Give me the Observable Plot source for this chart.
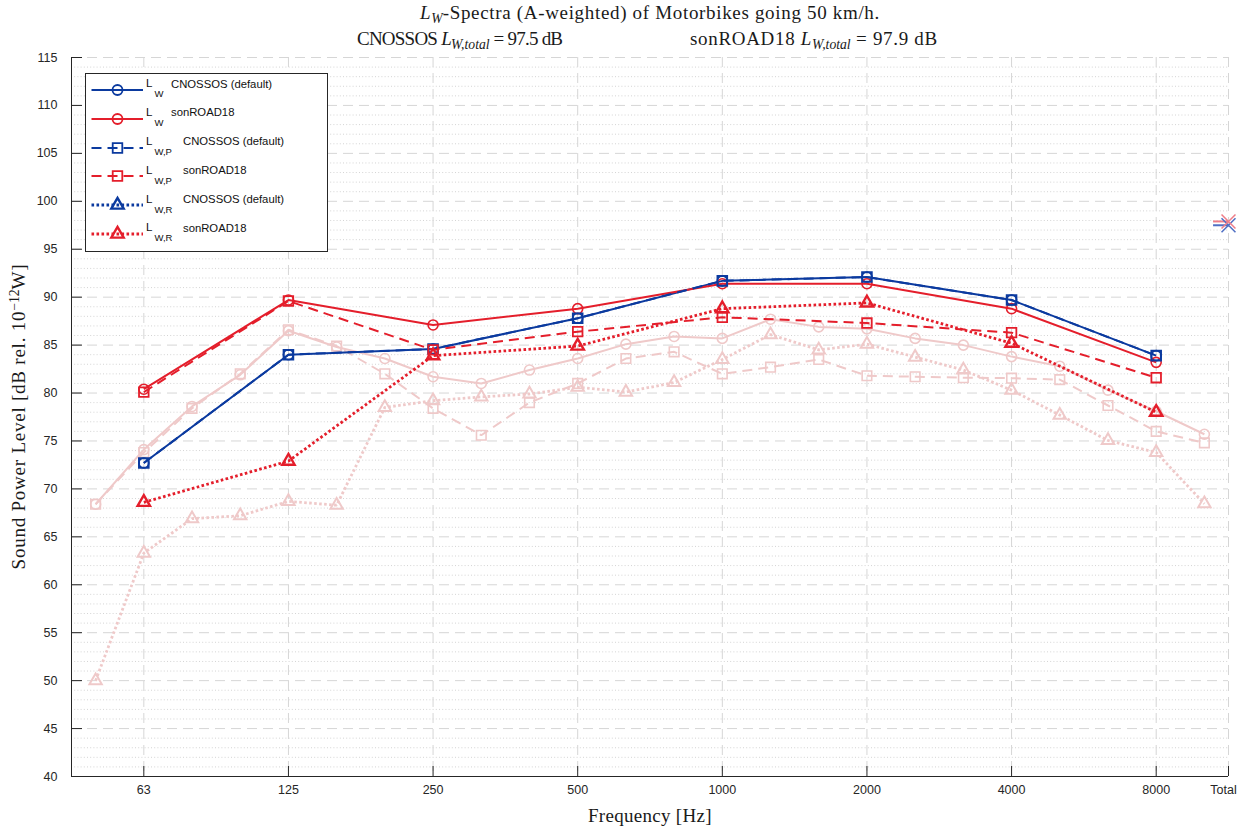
<!DOCTYPE html>
<html><head><meta charset="utf-8">
<script src="https://cdn.jsdelivr.net/npm/d3@7"></script>
<script src="https://cdn.jsdelivr.net/npm/@observablehq/plot@0.6"></script>
<style>
body{margin:0;background:#fff;}
#wrap{position:relative;width:1245px;height:832px;overflow:hidden;background:#fff;}
.serif{font-family:"Liberation Serif","Times New Roman",serif;color:#1a1a1a;position:absolute;white-space:nowrap;line-height:1;}
.serif sub,.lg sub{font-size:0.72em;vertical-align:baseline;position:relative;top:0.3em;letter-spacing:0;}
.serif sup{font-size:0.72em;vertical-align:baseline;position:relative;top:-0.45em;letter-spacing:0;}
#legend{position:absolute;left:85px;top:73px;width:243px;height:179px;box-sizing:border-box;border:1px solid #262626;background:#fff;}
.lg{position:absolute;font-family:"Liberation Sans",Arial,sans-serif;color:#111;white-space:nowrap;line-height:1;}
</style></head><body><div id="wrap"></div>
<script>
// ---- data ----
const bands = ["50","63","80","100","125","160","200","250","315","400","500","630","800","1000","1250","1600","2000","2500","3150","4000","5000","6300","8000","10000"];
const octaveBands = ["63","125","250","500","1000","2000","4000","8000"];
const totalLabel = "Total";

// octave-band spectra
const cnossosLW  = [72.7, 84.0, 84.6, 87.8, 91.7, 92.1, 89.7, 83.9];
const cnossosLWP = [72.7, 84.0, 84.6, 87.8, 91.7, 92.1, 89.7, 83.9];
const cnossosLWR = [];
const sonroadLW  = [80.4, 89.7, 87.1, 88.8, 91.4, 91.4, 88.8, 83.2];
const sonroadLWP = [80.1, 89.6, 84.5, 86.4, 87.9, 87.3, 86.3, 81.6];
const sonroadLWR = [68.6, 72.9, 83.9, 84.9, 88.8, 89.4, 85.2, 78.0];

// third-octave spectra (pale)
const thirdLW  = [68.4, 74.1, 78.6, 81.9, 86.5, 84.8, 83.6, 81.7, 81.0, 82.4, 83.6, 85.1, 85.9, 85.7, 87.7, 86.9, 86.7, 85.7, 85.0, 83.8, 82.8, 80.3, 78.1, 75.7];
const thirdLWP = [68.4, 73.8, 78.4, 82.0, 86.6, 84.9, 82.0, 78.4, 75.6, 79.0, 81.0, 83.6, 84.3, 82.0, 82.7, 83.5, 81.8, 81.7, 81.6, 81.55, 81.4, 78.7, 76.0, 74.8];
const thirdLWR = [50.0, 63.3, 66.9, 67.2, 68.7, 68.3, 78.5, 79.2, 79.6, 79.9, 80.6, 80.1, 81.1, 83.5, 86.1, 84.5, 85.1, 83.75, 82.4, 80.3, 77.7, 75.05, 73.8, 68.45];

const cnossosTotal = 97.5;
const sonroadTotal = 97.9;

const yTicks = d3.range(40, 116, 5);

// ---- styles ----
const blue = "#0b3a9f", red = "#e41e2b", pale = "#efc9c9";
const dashed = "10,6", dotted = "2.6,2.4";

const totalIdx = bands.length - 0.5;
const octave = vals => vals.map((v, i) => ({x: bands.indexOf(octaveBands[i]), y: v}));
const third = vals => vals.map((v, i) => ({x: i, y: v}));
const symR = {circle: 5, square: 5.4, triangle: 4.6};

const series = [
  {data: third(thirdLW),  color: pale, dash: null,   sym: "circle",   w: 2,   mw: 1.6},
  {data: third(thirdLWP), color: pale, dash: dashed, sym: "square",   w: 2,   mw: 1.6},
  {data: third(thirdLWR), color: pale, dash: dotted, sym: "triangle", w: 2.8, mw: 2},
  {data: octave(cnossosLW),  color: blue, dash: null,   sym: "circle",   w: 2,   mw: 1.6},
  {data: octave(sonroadLW),  color: red,  dash: null,   sym: "circle",   w: 2,   mw: 1.6},
  {data: octave(cnossosLWP), color: blue, dash: dashed, sym: "square",   w: 2,   mw: 2},
  {data: octave(sonroadLWP), color: red,  dash: dashed, sym: "square",   w: 2,   mw: 1.8},
  {data: octave(cnossosLWR), color: blue, dash: dotted, sym: "triangle", w: 2.8, mw: 2.4},
  {data: octave(sonroadLWR), color: red,  dash: dotted, sym: "triangle", w: 2.8, mw: 2.4}
];

const seriesMarks = series.filter(s => s.data.length).flatMap(s => [
  Plot.line(s.data, {x: "x", y: "y", stroke: s.color, strokeWidth: s.w, strokeDasharray: s.dash, strokeLinecap: "butt", strokeLinejoin: "miter"}),
  Plot.dot(s.data, {x: "x", y: "y", symbol: s.sym, r: symR[s.sym], stroke: s.color, strokeWidth: s.mw, fill: "none"})
]);

const xTickIdx = octaveBands.map(b => bands.indexOf(b));
const minorY = d3.range(40, 116).filter(v => v % 5 !== 0);
const totals = [{y: cnossosTotal, c: "#4f6fc4"}, {y: sonroadTotal, c: "#ef7d88"}];

const chart = Plot.plot({
  width: 1245, height: 832,
  marginTop: 57, marginBottom: 56, marginLeft: 71, marginRight: 17,
  x: {type: "linear", domain: [-0.5, totalIdx]},
  y: {domain: [40, 115]},
  style: {fontFamily: '"Liberation Sans",Arial,sans-serif', fontSize: "12.5px", color: "#262626", background: "transparent", overflow: "visible"},
  marks: [
    Plot.ruleY(minorY, {stroke: "#d4d4d4", strokeDasharray: "1,2.2"}),
    Plot.ruleY(yTicks.filter(v => v > 40), {stroke: "#d6d6d6", strokeDasharray: dashed}),
    Plot.ruleX([...xTickIdx, totalIdx], {stroke: "#d6d6d6", strokeDasharray: dashed}),
    ...seriesMarks,
    Plot.ruleY(totals, {y: "y", x1: totalIdx - 0.31, x2: totalIdx, stroke: "c", strokeWidth: 2}),
    Plot.dot(totals, {x: totalIdx, y: "y", symbol: "times", r: 6.4, stroke: "c", strokeWidth: 1.5}),
    Plot.ruleX([-0.5], {stroke: "#262626"}),
    Plot.ruleY([40], {stroke: "#262626"}),
    Plot.axisY({ticks: yTicks, tickSize: 11, dx: 11, fill: "none", label: null}),
    Plot.axisY({ticks: yTicks, tickSize: 0, tickPadding: 14, label: null}),
    Plot.axisX({ticks: [...xTickIdx, totalIdx], tickSize: 10, dy: -10, fill: "none", label: null}),
    Plot.axisX({ticks: xTickIdx, tickSize: 0, tickPadding: 9, tickFormat: i => bands[i], label: null}),
    Plot.axisX({ticks: [totalIdx], tickSize: 0, tickPadding: 9, dx: -5, tickFormat: () => totalLabel, label: null})
  ]
});
chart.style.position = "absolute";
chart.style.left = "0px";
chart.style.top = "0px";
const wrap = document.getElementById("wrap");
wrap.appendChild(chart);

// ---- texts ----
function addSerif(html, fs, target) {
  const d = document.createElement("div");
  d.className = "serif";
  d.style.fontSize = fs + "px";
  d.innerHTML = html;
  wrap.appendChild(d);
  if (target) {
    const n = d.textContent.length;
    const w = d.offsetWidth;
    d.style.letterSpacing = ((target - w) / n) + "px";
  }
  return d;
}
function placeCenter(d, cx, capCy, fs) {
  d.style.left = (cx - d.offsetWidth / 2) + "px";
  d.style.top = (capCy - 0.51 * fs) + "px";
}
const fsT = 19;
const t1 = addSerif('<i>L</i><sub><i>W</i></sub>-Spectra (A-weighted) of Motorbikes going 50 km/h.', fsT, 461);
placeCenter(t1, 650, 12.5, fsT);
const t2a = addSerif(`CNOSSOS <i>L</i><sub><i>W,total</i></sub> = ${cnossosTotal.toFixed(1)} dB`, fsT, 200);
t2a.style.left = "357px"; t2a.style.top = (39 - 0.51 * fsT) + "px";
const t2b = addSerif(`sonROAD18 <i>L</i><sub><i>W,total</i></sub> = ${sonroadTotal.toFixed(1)} dB`, fsT, 253);
t2b.style.left = "690px"; t2b.style.top = (39 - 0.51 * fsT) + "px";

const xl = addSerif('Frequency [Hz]', fsT, 124);
placeCenter(xl, 650, 816, fsT);
const yl = addSerif('Sound Power Level [dB rel. 10<sup>−12</sup>W]', fsT, 308);
placeCenter(yl, 19, 416.5, fsT);
yl.style.top = (416.5 - yl.offsetHeight / 2) + "px";
yl.style.transform = "rotate(-90deg)";
yl.style.transformOrigin = "50% 50%";

// ---- legend ----
const legend = document.createElement("div");
legend.id = "legend";
wrap.appendChild(legend);
const legendItems = [
  {sub: "W",   text: "CNOSSOS (default)", color: blue, dash: null,   sym: "circle"},
  {sub: "W",   text: "sonROAD18",         color: red,  dash: null,   sym: "circle"},
  {sub: "W,P", text: "CNOSSOS (default)", color: blue, dash: dashed, sym: "square"},
  {sub: "W,P", text: "sonROAD18",         color: red,  dash: dashed, sym: "square"},
  {sub: "W,R", text: "CNOSSOS (default)", color: blue, dash: dotted, sym: "triangle"},
  {sub: "W,R", text: "sonROAD18",         color: red,  dash: dotted, sym: "triangle"}
];
const symPath = {
  circle: d3.symbol(d3.symbolCircle, Math.PI * 25)(),
  square: d3.symbol(d3.symbolSquare, Math.PI * 5.4 * 5.4)(),
  triangle: d3.symbol(d3.symbolTriangle, Math.PI * 4.6 * 4.6)()
};
legendItems.forEach((it, i) => {
  const cy = 16 + 28.8 * i;
  const svg = d3.create("svg").attr("width", 56).attr("height", 20)
    .style("position", "absolute").style("left", "3px").style("top", (cy - 10) + "px");
  svg.append("line").attr("x1", 2.5).attr("x2", 54).attr("y1", 10).attr("y2", 10)
    .attr("stroke", it.color).attr("stroke-width", it.sym === "triangle" ? 2.8 : 2)
    .attr("stroke-dasharray", it.dash);
  svg.append("path").attr("d", symPath[it.sym]).attr("transform", "translate(28.5,10)")
    .attr("fill", "none").attr("stroke", it.color).attr("stroke-width", it.sym === "triangle" ? 2.4 : 1.8);
  legend.appendChild(svg.node());
  const L = document.createElement("div");
  L.className = "lg";
  L.style.fontSize = "11.5px";
  L.style.left = "60px";
  L.style.top = (cy - 6 - 5.6) + "px";
  L.innerHTML = "L";
  legend.appendChild(L);
  const S = document.createElement("div");
  S.className = "lg";
  S.style.fontSize = "9.5px";
  S.style.left = "68.5px";
  S.style.top = (cy + 4 - 4.6) + "px";
  S.textContent = it.sub;
  legend.appendChild(S);
  const T = document.createElement("div");
  T.className = "lg";
  T.style.fontSize = "11.3px";
  T.style.left = (it.sub === "W" ? 85 : 97) + "px";
  T.style.top = (cy - 6 - 5.5) + "px";
  T.textContent = it.text;
  legend.appendChild(T);
});
</script></body></html>
